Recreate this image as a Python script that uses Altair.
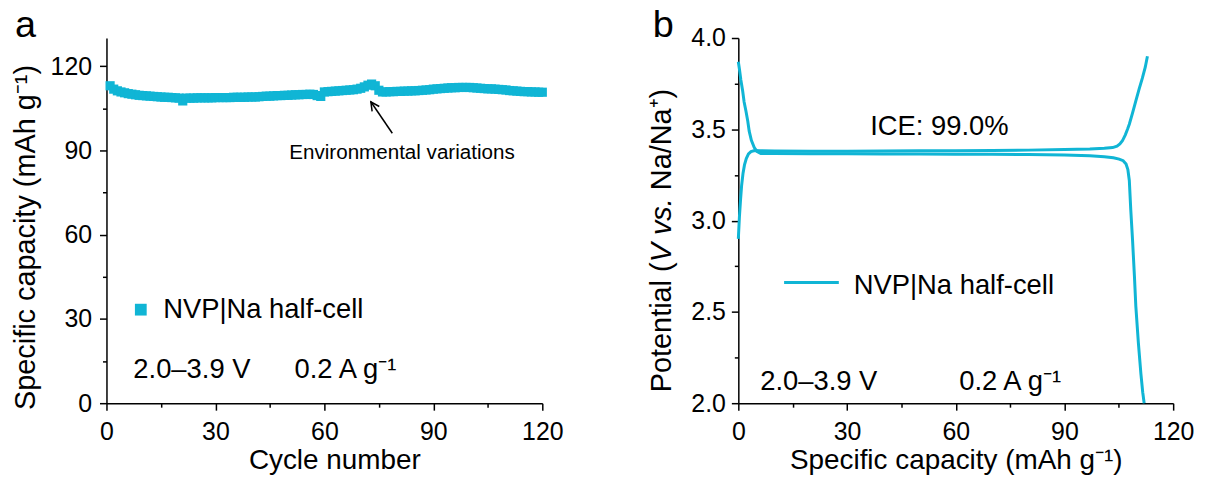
import altair as alt
import pandas as pd

CYAN = "#10B5D5"
FONT = "Liberation Sans"

# ---- panel a: cycling stability -------------------------------------------
cycle_number = list(range(1, 121))
capacity = [
    113.0, 111.8, 111.2, 110.8, 110.5, 110.2, 110.0, 109.8, 109.6, 109.5,
    109.4, 109.3, 109.2, 109.1, 109.0, 108.9, 108.9, 108.8, 108.7, 108.6,
    107.6, 108.6, 108.6, 108.6, 108.7, 108.7, 108.7, 108.7, 108.7, 108.8,
    108.8, 108.8, 108.8, 108.8, 108.9, 108.9, 108.9, 108.9, 109.0, 109.0,
    109.0, 109.1, 109.2, 109.3, 109.3, 109.4, 109.5, 109.5, 109.6, 109.6,
    109.7, 109.8, 109.8, 109.9, 109.9, 110.0, 109.9, 109.5, 109.2, 110.8,
    110.9, 111.0, 111.1, 111.2, 111.3, 111.4, 111.5, 111.6, 111.8, 112.1,
    112.6, 113.2, 113.6, 113.0, 111.4, 110.8, 110.8, 110.9, 110.9, 111.0,
    111.0, 111.1, 111.1, 111.2, 111.2, 111.3, 111.4, 111.5, 111.6, 111.8,
    111.9, 112.0, 112.1, 112.2, 112.3, 112.3, 112.4, 112.4, 112.4, 112.4,
    112.3, 112.2, 112.1, 112.0, 111.9, 111.9, 111.8, 111.7, 111.6, 111.5,
    111.3, 111.2, 111.1, 111.0, 110.9, 110.9, 110.8, 110.8, 110.7, 110.7,
]

# arrow pointing at the bump near cycle 73 (cycle, capacity)
arrow_tip = (72.8, 107.3)
arrow_tail = (78.7, 96.1)

# ---- panel b: first charge / discharge profile ----------------------------
charge_capacity = [
    0.0, 0.3, 0.6, 0.9, 1.3, 1.7, 2.2, 2.8, 3.5, 4.5, 6.0, 10, 20, 30, 40,
    50, 60, 70, 80, 90, 97, 101, 103.3, 104.5, 105.3, 106.0, 106.8, 107.4,
    107.9, 108.8, 109.7, 110.6, 111.5, 112.3, 112.9,
]
charge_potential = [
    2.90, 3.02, 3.11, 3.19, 3.26, 3.305, 3.34, 3.365, 3.378, 3.384, 3.383,
    3.381, 3.380, 3.380, 3.381, 3.382, 3.383, 3.384, 3.386, 3.389, 3.392,
    3.396, 3.400, 3.408, 3.42, 3.437, 3.47, 3.50, 3.528, 3.59, 3.656, 3.72,
    3.78, 3.84, 3.90,
]
discharge_capacity = [
    0.0, 0.3, 0.7, 1.2, 1.6, 2.1, 2.6, 3.0, 3.6, 4.4, 5.2, 6.2, 10, 20, 30,
    40, 50, 60, 70, 80, 90, 97, 101, 103.5, 105.1, 106.2, 107.0, 107.5,
    107.9, 108.3, 108.8, 109.3, 109.7, 110.4, 111.1, 111.6, 112.0,
]
discharge_potential = [
    3.87, 3.83, 3.77, 3.71, 3.65, 3.60, 3.545, 3.49, 3.44, 3.40, 3.378,
    3.368, 3.367, 3.366, 3.366, 3.365, 3.365, 3.364, 3.363, 3.362, 3.359,
    3.355, 3.350, 3.344, 3.337, 3.328, 3.31, 3.28, 3.22, 3.06, 2.89, 2.70,
    2.53, 2.33, 2.16, 2.06, 2.00,
]

W_A, W_B, H = 438, 437, 367
TITLE_V = 29     # vertical axis titles
TITLE_H = 28     # horizontal axis titles
TEXT = 27.5      # in-plot annotations


def axis(title, values, major, fmt, tick_pad, title_size, **kw):
    return alt.Axis(
        title=title,
        values=values,
        format=fmt,
        labelExpr=f"({major}) ? datum.label : ''",
        tickSize={"condition": {"test": major, "value": 7}, "value": 4},
        tickWidth=1.5,
        tickColor="black",
        domainColor="black",
        domainWidth=1.5,
        grid=False,
        labelFont=FONT,
        labelFontSize=25,
        labelColor="black",
        labelPadding=tick_pad,
        labelFlush=False,
        labelOverlap=False,
        titleFont=FONT,
        titleFontSize=title_size,
        titleFontWeight="normal",
        titleColor="black",
        **kw,
    )


MAJ30 = "datum.value % 30 === 0"
MAJ05 = "abs(datum.value * 2 - round(datum.value * 2)) < 1e-6"
ticks_120 = [0, 15, 30, 45, 60, 75, 90, 105, 120]


def label(text, x, y, size=TEXT, align="left", style="normal", angle=0):
    return (
        alt.Chart(pd.DataFrame({"t": [text]}))
        .mark_text(font=FONT, fontSize=size, align=align, baseline="alphabetic",
                   color="black", fontStyle=style, angle=angle)
        .encode(x=alt.value(x), y=alt.value(y), text="t:N")
    )


# invisible corner mark that pins the page origin 106 px left / 36 px above panel a
corner = alt.Chart(pd.DataFrame({"a": [0]})).mark_rule(
    strokeWidth=1, opacity=0).encode(x=alt.value(-106), x2=alt.value(-104), y=alt.value(-36))

# ---- panel a ---------------------------------------------------------------
cyc = pd.DataFrame({"cycle": cycle_number, "capacity": capacity})
xa = alt.X("cycle:Q", scale=alt.Scale(domain=[0, 120], nice=False, zero=False),
           axis=axis("Cycle number", ticks_120, MAJ30, "d", 9, TITLE_H,
                     titleX=229, titleY=66, titleBaseline="alphabetic"))
ya = alt.Y("capacity:Q", scale=alt.Scale(domain=[0, 130], nice=False),
           axis=axis("Specific capacity (mAh g⁻¹)", ticks_120, MAJ30, "d", 8, TITLE_V,
                     titleX=-72, titleY=200, titleBaseline="alphabetic"))

points_a = alt.Chart(cyc).mark_square(size=85, color=CYAN, opacity=1).encode(x=xa, y=ya)

arrow_df = pd.DataFrame({"x": [arrow_tail[0]], "y": [arrow_tail[1]],
                         "x2": [arrow_tip[0]], "y2": [arrow_tip[1]]})
arrow_line = alt.Chart(arrow_df).mark_rule(color="black", strokeWidth=1.5).encode(
    x="x:Q", y="y:Q", x2="x2:Q", y2="y2:Q")
arrow_head = alt.Chart(pd.DataFrame({"x": [arrow_tip[0]], "y": [arrow_tip[1]]})).mark_point(
    shape="M-0.5,1L0,0L0.5,1", size=300, angle=326, filled=False,
    stroke="black", strokeWidth=1.5, opacity=1).encode(x="x:Q", y="y:Q")

legend_sq = alt.Chart(pd.DataFrame({"a": [0]})).mark_square(
    size=140, color=CYAN, opacity=1).encode(x=alt.value(34.5), y=alt.value(273))

panel_a = alt.layer(
    points_a, arrow_line, arrow_head, legend_sq, corner,
    label("NVP|Na half-cell", 57, 281),
    label("2.0–3.9 V", 27, 342),
    label("0.2 A g⁻¹", 189, 342),
    label("Environmental variations", 297, 122, size=20.7, align="center"),
    label("a", -92, -1, size=38),
).properties(width=W_A, height=H, view=alt.ViewBackground(stroke="transparent"))

# ---- panel b ---------------------------------------------------------------
prof = pd.concat([
    pd.DataFrame({"cap": charge_capacity, "v": charge_potential,
                  "step": "charge", "i": range(len(charge_capacity))}),
    pd.DataFrame({"cap": discharge_capacity, "v": discharge_potential,
                  "step": "discharge", "i": range(len(discharge_capacity))}),
])
xb = alt.X("cap:Q", scale=alt.Scale(domain=[0, 120], nice=False, zero=False),
           axis=axis("Specific capacity (mAh g⁻¹)", ticks_120, MAJ30, "d", 9, TITLE_H,
                     titleY=66, titleBaseline="alphabetic"))
yb = alt.Y("v:Q", scale=alt.Scale(domain=[2.0, 4.0], nice=False, zero=False),
           axis=axis(None, [2.0, 2.25, 2.5, 2.75, 3.0, 3.25, 3.5, 3.75, 4.0],
                     MAJ05, ".1f", 6, TITLE_V))

curves = alt.Chart(prof).mark_line(color=CYAN, strokeWidth=3).encode(
    x=xb, y=yb, detail="step:N", order="i:Q")

legend_line = alt.Chart(pd.DataFrame({"a": [0]})).mark_rule(
    color=CYAN, strokeWidth=3).encode(x=alt.value(46), x2=alt.value(101), y=alt.value(245.7))

# y title "Potential (V vs. Na/Na⁺)" set in pieces so that "V vs." can be italic;
# pieces run upward, each starting where the previous one ends (Arial advance widths)
em = TITLE_V
y0 = 356
w1 = 4.502 * em            # "Potential ("
w2 = 2.223 * em + 0.278 * em  # "V vs." plus the following space
title_b = [
    label("Potential (", -68, y0, size=TITLE_V, angle=270),
    label("V vs.", -68, y0 - w1, size=TITLE_V, angle=270, style="italic"),
    label("Na/Na⁺)", -68, y0 - w1 - w2, size=TITLE_V, angle=270),
]

panel_b = alt.layer(
    curves, legend_line, *title_b,
    label("NVP|Na half-cell", 116, 257),
    label("2.0–3.9 V", 22, 354),
    label("0.2 A g⁻¹", 222, 354),
    label("ICE: 99.0%", 202, 97, align="center"),
    label("b", -86, -1, size=38),
).properties(width=W_B, height=H, view=alt.ViewBackground(stroke="transparent"))

chart = alt.hconcat(panel_a, panel_b, spacing=197, bounds="flush").properties(
    padding={"left": 0, "top": 0, "right": 10, "bottom": 5},
).configure_view(strokeOpacity=0, strokeWidth=0).configure(background="white")

chart.save("out.html", embed_options={"renderer": "svg", "actions": False})
